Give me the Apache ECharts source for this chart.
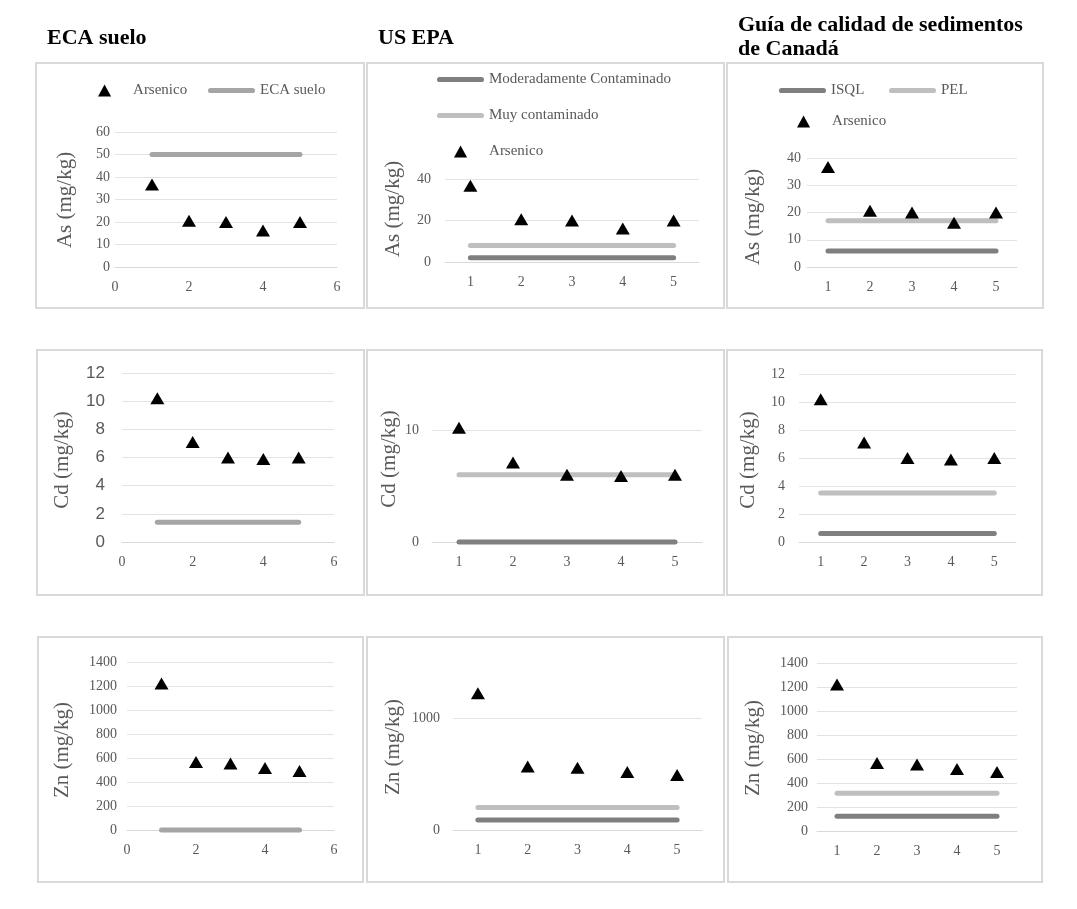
<!DOCTYPE html>
<html><head><meta charset="utf-8">
<script src="https://cdn.jsdelivr.net/npm/echarts@6/dist/echarts.min.js"></script>
<style>html,body{margin:0;padding:0;background:#fff}#c{width:1077px;height:909px}</style>
</head><body><div id="c"></div>
<script>
// ---------------- DATA ----------------
const sites = ['1', '2', '3', '4', '5'];
const siteNums = [1, 2, 3, 4, 5];
const arsenico = [36.7, 20.6, 20.0, 16.2, 20.0];
const cadmio = [10.2, 7.1, 6.0, 5.9, 6.0];
const zinc = [1220, 566, 555, 517, 491];
// thresholds per metal: [As, Cd, Zn]
const ecaSuelo = [50, 1.4, 0];
const epaModerado = [2, 0, 90];
const epaMuy = [8, 6, 200];
const isql = [5.9, 0.6, 123];
const pel = [17, 3.5, 315];
const panelTitles = ['ECA suelo', 'US EPA', 'Guía de calidad de sedimentos', 'de Canadá'];
const yTitles = ['As (mg/kg)', 'Cd (mg/kg)', 'Zn (mg/kg)'];
// y axis ticks: [ECA, EPA, Canada] per metal row
const yMax = [[60, 40, 40], [12, 10, 12], [1400, 1000, 1400]];
const yStep = [[10, 20, 10], [2, 10, 2], [200, 1000, 200]];
const xMaxNum = 6, xStepNum = 2;

// ---------------- LAYOUT / STYLE ----------------
const SERIF = "'Liberation Serif','Times New Roman',serif";
const SANS = "'Liberation Sans',Arial,sans-serif";
const GREY_TXT = '#595959';
const C_ECA = '#a5a5a5', C_DARK = '#7f7f7f', C_LIGHT = '#bfbfbf';
const grids = [
  {left:115, top:132, width:222, height:135},
  {left:445, top:179, width:254, height:83},
  {left:807, top:158, width:210, height:109},
  {left:122, top:373, width:212, height:169},
  {left:432, top:430, width:270, height:112},
  {left:799, top:374, width:217, height:168},
  {left:127, top:662, width:207, height:168},
  {left:453, top:718, width:249, height:112},
  {left:817, top:663, width:200, height:168}
];
const yLabelMargin = [5, 14, 6, 17, 13, 14, 10, 13, 9];
const yTitlePos = [[65,200],[393,209],[753,217],[62,460],[389,459],[748,460],[62,750],[393,747],[753,748]];
const borders = [
  [36,63,328,245],[367,63,357,245],[727,63,316,245],
  [37,350,327,245],[367,350,357,245],[727,350,315,245],
  [38,637,325,245],[367,637,357,245],[728,637,314,245]
];
const metals = [arsenico, cadmio, zinc];

const TRI = 'path://M6,0 L12,11 L0,11 Z';
const BAR = 'path://M2.5,0 L42.5,0 A2.5,2.5 0 0 1 42.5,5 L2.5,5 A2.5,2.5 0 0 1 2.5,0 Z';
const legendItems = [
  {name:'Arsenico', icon:TRI, left:98, cy:92},
  {name:'ECA suelo', icon:BAR, left:208, cy:92},
  {name:'Moderadamente Contaminado', icon:BAR, left:437, cy:81},
  {name:'Muy contaminado', icon:BAR, left:437, cy:117},
  {name:'Arsenico', icon:TRI, left:454, cy:153},
  {name:'ISQL', icon:BAR, left:779, cy:92},
  {name:'PEL', icon:BAR, left:889, cy:92},
  {name:'Arsenico', icon:TRI, left:797, cy:123}
];

const plainNum = v => String(v);
const xAxes = [], yAxes = [], series = [];
for (let r = 0; r < 3; r++) {
  for (let c = 0; c < 3; c++) {
    const p = r * 3 + c;
    const isVal = c === 0;
    const tickFont = (p === 3) ? {fontFamily: SANS, fontSize: 17} : {fontFamily: SERIF, fontSize: 14};
    xAxes.push(Object.assign({
      gridIndex: p,
      axisLine: {show: true, lineStyle: {color: '#d9d9d9', width: 1}},
      axisTick: {show: false},
      splitLine: {show: false},
      axisLabel: {color: GREY_TXT, fontFamily: SERIF, fontSize: 14, margin: 13}
    }, isVal ? {type: 'value', min: 0, max: xMaxNum, interval: xStepNum}
             : {type: 'category', data: sites, boundaryGap: true}));
    yAxes.push({
      gridIndex: p, type: 'value', min: 0, max: yMax[r][c], interval: yStep[r][c],
      axisLine: {show: false}, axisTick: {show: false},
      splitLine: {show: true, lineStyle: {color: '#e3e3e3', width: 1}},
      axisLabel: Object.assign({color: GREY_TXT, margin: yLabelMargin[p], formatter: plainNum}, tickFont)
    });
    const vals = metals[r];
    const lineDefs = c === 0 ? [['ECA suelo', ecaSuelo[r], C_ECA]]
                   : c === 1 ? [['Moderadamente Contaminado', epaModerado[r], C_DARK], ['Muy contaminado', epaMuy[r], C_LIGHT]]
                   : [['ISQL', isql[r], C_DARK], ['PEL', pel[r], C_LIGHT]];
    lineDefs.forEach(([nm, v, col]) => {
      const first = isVal ? siteNums[0] : sites[0];
      const last = isVal ? siteNums[siteNums.length - 1] : sites[sites.length - 1];
      series.push({
        type: 'line', name: nm, xAxisIndex: p, yAxisIndex: p,
        data: [[first, v], [last, v]],
        showSymbol: false, symbol: 'none', clip: false, z: 2,
        color: col, itemStyle: {color: col},
        lineStyle: {color: col, width: 5, cap: 'round'}
      });
    });
    series.push({
      type: 'scatter', name: 'Arsenico', xAxisIndex: p, yAxisIndex: p,
      data: vals.map((v, i) => [isVal ? siteNums[i] : sites[i], v]),
      symbol: 'triangle', symbolSize: [14, 12], clip: false, z: 5,
      itemStyle: {color: '#000', opacity: 1}, color: '#000'
    });
  }
}

const legends = legendItems.map(it => ({
  left: it.left, top: it.cy - 9, padding: 0, orient: 'horizontal',
  itemWidth: 47, itemHeight: 12, symbolKeepAspect: true, selectedMode: false,
  itemStyle: {borderWidth: 0, opacity: 1},
  textStyle: {color: GREY_TXT, fontFamily: SERIF, fontSize: 15},
  data: [{name: it.name, icon: it.icon}]
}));

const graphics = [];
borders.forEach(b => graphics.push({
  type: 'rect', shape: {x: b[0], y: b[1], width: b[2], height: b[3]},
  style: {fill: 'none', stroke: '#d9d9d9', lineWidth: 2}, silent: true
}));
const titlePos = [[47,38],[378,38],[738,25],[738,49]];
panelTitles.forEach((t, i) => graphics.push({
  type: 'text', x: titlePos[i][0], y: titlePos[i][1],
  style: {text: t, fill: '#000', font: 'bold 22px ' + SERIF, verticalAlign: 'middle', align: 'left'}
}));
yTitlePos.forEach((pos, p) => graphics.push({
  type: 'text', x: pos[0], y: pos[1], rotation: Math.PI / 2,
  style: {text: yTitles[Math.floor(p / 3)], fill: GREY_TXT, font: '21px ' + SERIF, align: 'center', verticalAlign: 'middle'}
}));

const chart = echarts.init(document.getElementById('c'));
chart.setOption({
  animation: false,
  backgroundColor: '#fff',
  grid: grids,
  xAxis: xAxes,
  yAxis: yAxes,
  legend: legends,
  series: series,
  graphic: graphics
});
</script>
</body></html>
